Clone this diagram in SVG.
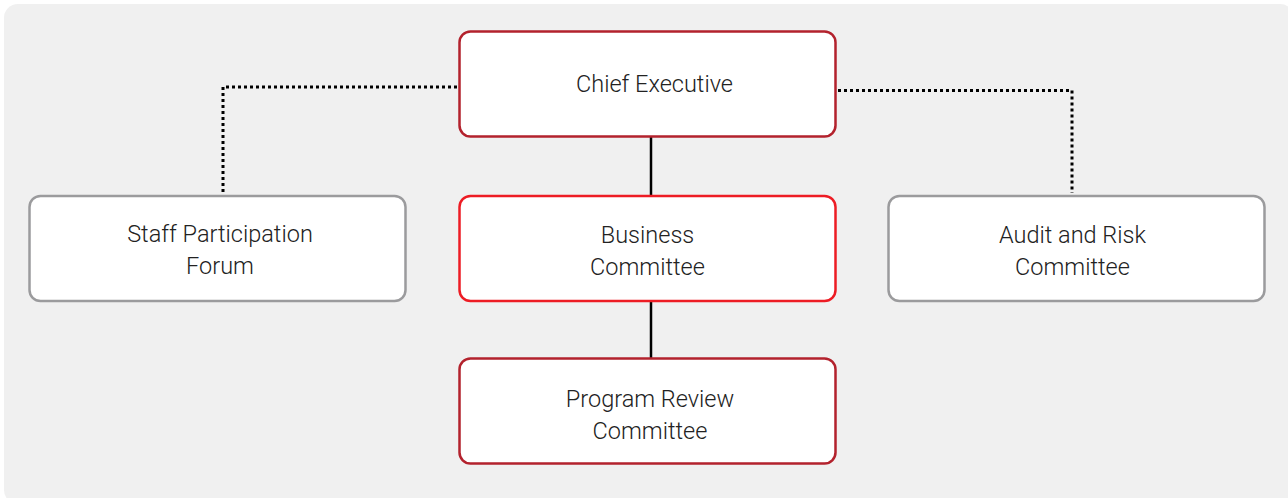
<svg xmlns="http://www.w3.org/2000/svg" width="1288" height="498" viewBox="0 0 1288 498">
<style>
.bg{fill:#f0f0f0}
.box{fill:#fff;stroke-width:2.5}
.dark{stroke:#b3222d}
.bright{stroke:#ed1c24}
.gray{stroke:#9b9b9d}
.t{font-family:Roboto,"Liberation Sans",sans-serif;font-weight:300;font-size:23.5px;fill:#222;text-anchor:middle}
.dot{fill:none;stroke:#000;stroke-width:3;stroke-dasharray:3 3}
.solid{fill:none;stroke:#000;stroke-width:2.5}
</style>
<rect class="bg" x="4" y="4" width="1290" height="500" rx="14"/>
<g id="connectors">
<path class="dot" d="M457 87 H223 V193"/>
<path class="dot" d="M838 90.5 H1072 V193"/>
<line class="solid" x1="651" y1="137" x2="651" y2="195"/>
<line class="solid" x1="651" y1="301" x2="651" y2="358"/>
</g>
<g id="chief">
<rect class="box dark" x="459.5" y="31.5" width="376" height="105" rx="11"/>
<text class="t" x="654.5" y="92">Chief Executive</text>
</g>
<g id="staff">
<rect class="box gray" x="29.5" y="196" width="376" height="105" rx="11"/>
<text class="t" x="220" y="241.5">Staff Participation</text>
<text class="t" x="220" y="273.5">Forum</text>
</g>
<g id="business">
<rect class="box bright" x="459.5" y="196" width="376" height="105" rx="11"/>
<text class="t" x="647.5" y="242.5">Business</text>
<text class="t" x="647.5" y="274.5">Committee</text>
</g>
<g id="audit">
<rect class="box gray" x="888.5" y="196" width="376" height="105" rx="11"/>
<text class="t" x="1072.5" y="242.5">Audit and Risk</text>
<text class="t" x="1072.5" y="274.5">Committee</text>
</g>
<g id="program">
<rect class="box dark" x="459.5" y="358.5" width="376" height="105" rx="11"/>
<text class="t" x="650" y="406.5">Program Review</text>
<text class="t" x="650" y="438.5">Committee</text>
</g>
</svg>
